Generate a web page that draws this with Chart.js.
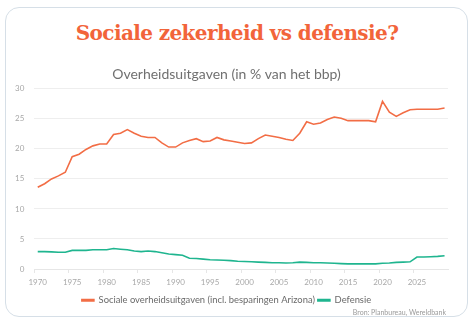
<!DOCTYPE html>
<html>
<head>
<meta charset="utf-8">
<script src="https://cdn.jsdelivr.net/npm/chart.js@4"></script>
<style>
    html, body { margin: 0; padding: 0; background: #ffffff; }
    body { width: 474px; height: 326px; position: relative; overflow: hidden; }
    .card {
        position: absolute; left: 5px; top: 7px; width: 463px; height: 310px;
        box-sizing: border-box; border: 1.5px solid #d6dfe7; border-radius: 14px;
    }
    h1 {
        position: absolute; left: 0; top: 21px; width: 474px; margin: 0;
        text-align: center; font-family: "DejaVu Serif", serif; font-weight: bold;
        font-size: 20px; color: #f2643a; letter-spacing: -0.6px;
    }
    .chart-box { position: absolute; left: 5px; top: 64px; width: 463px; height: 256px; }
    .bron {
        position: absolute; right: 28px; top: 308px; margin: 0;
        font-family: Lato, sans-serif; font-size: 7px; color: #9a9a9a;
    }
</style>
</head>
<body>
<div class="card"></div>
<h1>Sociale zekerheid vs defensie?</h1>
<div class="chart-box"><canvas id="uitgaven"></canvas></div>
<p class="bron">Bron: Planbureau, Wereldbank</p>
<script>
const years = [];
for (let y = 1970; y <= 2029; y++) years.push(String(y));

// Sociale overheidsuitgaven, % bbp
const sociaal = [
    13.6, 14.2, 15.0, 15.5, 16.1, 18.7, 19.1, 19.9, 20.5, 20.8,
    20.8, 22.4, 22.6, 23.2, 22.6, 22.1, 21.9, 21.9, 21.0, 20.3,
    20.3, 21.0, 21.4, 21.7, 21.2, 21.3, 21.9, 21.5, 21.3, 21.1,
    20.9, 21.0, 21.7, 22.3, 22.1, 21.9, 21.6, 21.4, 22.6, 24.5,
    24.1, 24.3, 24.9, 25.3, 25.1, 24.7, 24.7, 24.7, 24.7, 24.5,
    27.9, 26.1, 25.4, 26.0, 26.5, 26.6, 26.6, 26.6, 26.6, 26.8
];

// Defensie-uitgaven, % bbp
const defensie = [
    2.9, 2.9, 2.85, 2.8, 2.8, 3.1, 3.1, 3.1, 3.2, 3.2,
    3.2, 3.4, 3.3, 3.2, 3.0, 2.9, 3.0, 2.9, 2.7, 2.5,
    2.4, 2.3, 1.8, 1.75, 1.65, 1.55, 1.5, 1.45, 1.4, 1.3,
    1.26, 1.2, 1.15, 1.1, 1.05, 1.05, 1.0, 1.05, 1.15, 1.1,
    1.05, 1.05, 1.0, 0.95, 0.9, 0.85, 0.85, 0.85, 0.85, 0.85,
    0.95, 1.0, 1.1, 1.15, 1.2, 2.0, 2.0, 2.05, 2.1, 2.2
];

const yTicks = [0, 5, 10, 15, 20, 25, 30];

const oranje = '#f26d45';
const groen = '#1fb58f';
const tickColor = '#a8a8a8';

const ctx = document.getElementById('uitgaven').getContext('2d');
const chart = new Chart(ctx, {
    type: 'line',
    data: {
        labels: years,
        datasets: [{
            label: 'Sociale overheidsuitgaven (incl. besparingen Arizona)',
            data: sociaal,
            borderColor: oranje,
            backgroundColor: oranje,
            borderWidth: 1.6,
            pointRadius: 0,
            tension: 0
        },
        {
            label: 'Defensie',
            data: defensie,
            borderColor: groen,
            backgroundColor: groen,
            borderWidth: 1.6,
            pointRadius: 0,
            tension: 0
        }]
    },
    options: {
        responsive: true,
        maintainAspectRatio: false,
        animation: false,
        layout: { padding: { left: 0, right: 20, top: 0, bottom: 5 } },
        scales: {
            x: {
                offset: true,
                grid: {
                    offset: true,
                    drawOnChartArea: false,
                    tickLength: 4,
                    // only every fifth year gets a tick mark
                    color: (c) => (c.index % 5 === 0 ? '#e6e6e6' : 'rgba(0,0,0,0)')
                },
                border: { color: '#e6e6e6' },
                ticks: {
                    autoSkip: false,
                    maxRotation: 0,
                    padding: 5,
                    color: tickColor,
                    font: { family: 'Lato', size: 8 },
                    callback: function (val, i) {
                        return Number(years[i]) % 5 === 0 ? years[i] : '';
                    }
                }
            },
            y: {
                min: 0,
                max: 30,
                afterBuildTicks: (axis) => { axis.ticks = yTicks.map(v => ({ value: v })); },
                grid: { color: '#eeeeee', drawTicks: false },
                border: { display: false },
                ticks: {
                    padding: 10,
                    color: tickColor,
                    font: { family: 'Lato', size: 8 }
                }
            }
        },
        plugins: {
            title: {
                display: true,
                text: 'Overheidsuitgaven (in % van het bbp)',
                color: '#707070',
                font: { family: 'Lato', size: 14, weight: 'normal' },
                padding: { top: 2, bottom: 6 }
            },
            legend: {
                position: 'bottom',
                labels: {
                    color: '#6a6a6a',
                    font: { family: 'Lato', size: 9.4 },
                    boxWidth: 12,
                    boxHeight: 1.5,
                    padding: 3
                }
            },
            tooltip: { enabled: false }
        }
    }
});
</script>
</body>
</html>
